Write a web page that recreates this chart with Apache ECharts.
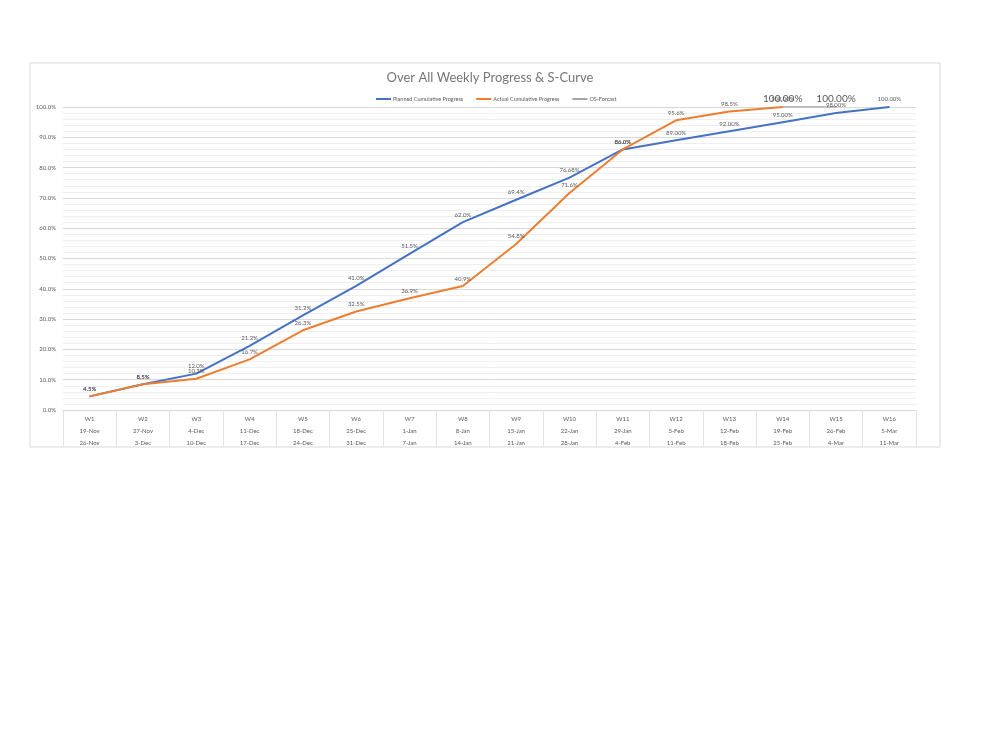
<!DOCTYPE html>
<html>
<head>
<meta charset="utf-8">
<script src="https://cdn.jsdelivr.net/npm/echarts@6/dist/echarts.min.js"></script>
<style>
  html, body { margin: 0; padding: 0; background: #fff; }
  #main { width: 1000px; height: 750px; }
</style>
</head>
<body>
<div id="main"></div>
<script>
// weeks, start dates, end dates
var weeks = ['W1','W2','W3','W4','W5','W6','W7','W8','W9','W10','W11','W12','W13','W14','W15','W16'];
var startDates = ['19-Nov','27-Nov','4-Dec','11-Dec','18-Dec','25-Dec','1-Jan','8-Jan','15-Jan','22-Jan','29-Jan','5-Feb','12-Feb','19-Feb','26-Feb','5-Mar'];
var endDates = ['26-Nov','3-Dec','10-Dec','17-Dec','24-Dec','31-Dec','7-Jan','14-Jan','21-Jan','28-Jan','4-Feb','11-Feb','18-Feb','25-Feb','4-Mar','11-Mar'];

var planned = [4.5, 8.5, 12.0, 21.2, 31.2, 41.0, 51.5, 62.0, 69.4, 76.68, 86.0, 89.0, 92.0, 95.0, 98.0, 100.0];
var plannedDigits = [1,1,1,1,1,1,1,1,1,2,1,2,2,2,2,2];
var actual = [4.5, 8.5, 10.3, 16.7, 26.3, 32.5, 36.9, 40.9, 54.8, 71.6, 86.0, 95.6, 98.5, 100.0, null, null];
var actualDigits = [1,1,1,1,1,1,1,1,1,1,1,1,1,2,0,0];
var forecast = [null,null,null,null,null,null,null,null,null,null,null,null,null,100.0,100.0,null];

var yTicks = [0, 10, 20, 30, 40, 50, 60, 70, 80, 90, 100];

var chartDom = document.getElementById('main');
var myChart = echarts.init(chartDom);
var font = 'Lato, "Open Sans", sans-serif';

function fmt(digits) {
  return function (p) {
    return p.value.toFixed(digits[p.dataIndex]) + '%';
  };
}

var option = {
  animation: false,
  textStyle: { fontFamily: font },
  graphic: [{
    type: 'rect',
    shape: { x: 30, y: 63, width: 910, height: 384 },
    style: { fill: 'none', stroke: '#d9d9d9', lineWidth: 1 },
    z: -10
  }],
  title: {
    text: 'Over All Weekly Progress & S-Curve',
    left: 485,
    textAlign: 'center',
    top: 66,
    textStyle: { fontFamily: font, fontSize: 13, fontWeight: 'normal', color: '#767676' }
  },
  legend: {
    top: 91,
    left: 371,
    itemWidth: 15,
    itemHeight: 2,
    itemGap: 13,
    icon: 'rect',
    textStyle: { fontFamily: font, fontSize: 5.5, color: '#595959', padding: [0, 0, 0, -3] },
    data: ['Planned Cumulative Progress', 'Actual Cumulative Progress', 'OS-Forcast']
  },
  grid: {
    left: 63,
    right: 84,
    top: 107,
    bottom: 340,
    containLabel: false
  },
  xAxis: {
    type: 'category',
    boundaryGap: true,
    data: weeks,
    axisLine: { show: true, lineStyle: { color: '#d9d9d9' } },
    axisTick: { show: true, interval: 0, length: 37, lineStyle: { color: '#e3e3e3' } },
    axisLabel: {
      interval: 0,
      margin: 3,
      fontSize: 6,
      lineHeight: 12,
      color: '#595959',
      formatter: function (v, i) {
        return v + '\n' + startDates[i] + '\n' + endDates[i];
      }
    }
  },
  yAxis: {
    type: 'value',
    min: yTicks[0],
    max: yTicks[yTicks.length - 1],
    interval: 10,
    axisLine: { show: false },
    axisTick: { show: false },
    axisLabel: {
      margin: 7,
      fontSize: 6,
      color: '#595959',
      formatter: function (v) { return v.toFixed(1) + '%'; }
    },
    splitLine: { show: true, lineStyle: { color: '#d9d9d9', width: 1 } },
    minorTick: { show: false, splitNumber: 5 },
    minorSplitLine: { show: true, lineStyle: { color: '#efefef', width: 1 } }
  },
  series: [
    {
      name: 'Planned Cumulative Progress',
      type: 'line',
      data: planned,
      symbol: 'circle',
      symbolSize: 1,
      showSymbol: true,
      lineStyle: { color: '#4472C4', width: 2 },
      itemStyle: { color: '#4472C4' },
      label: {
        show: true,
        position: 'top',
        distance: 4,
        fontSize: 6,
        color: '#595959',
        formatter: fmt(plannedDigits)
      },
      z: 3
    },
    {
      name: 'Actual Cumulative Progress',
      type: 'line',
      data: actual,
      symbol: 'circle',
      symbolSize: 1,
      showSymbol: true,
      lineStyle: { color: '#ED7D31', width: 2 },
      itemStyle: { color: '#ED7D31' },
      label: {
        show: true,
        position: 'top',
        distance: 4,
        fontSize: 6,
        color: '#595959',
        formatter: fmt(actualDigits)
      },
      z: 4
    },
    {
      name: 'OS-Forcast',
      type: 'line',
      data: forecast,
      symbol: 'circle',
      symbolSize: 1,
      showSymbol: true,
      lineStyle: { color: '#bfbfbf', width: 2 },
      itemStyle: { color: '#A5A5A5' },
      label: {
        show: true,
        position: 'top',
        distance: 3,
        fontSize: 10,
        color: '#595959',
        formatter: function (p) { return p.value.toFixed(2) + '%'; }
      },
      z: 2
    }
  ]
};

option && myChart.setOption(option);
</script>
</body>
</html>
